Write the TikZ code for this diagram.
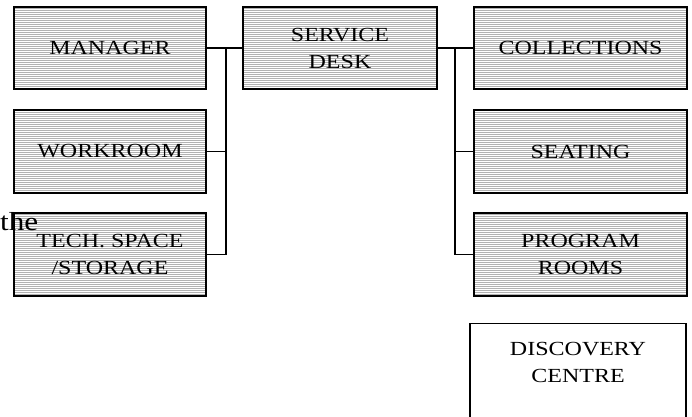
\documentclass[tikz,border=0pt]{standalone}
\usepackage{fontspec}
\usetikzlibrary{patterns.meta,positioning}
\newfontfamily\roomfont[FakeStretch=1.2]{Liberation Serif}
\tikzset{
  roombox/.style={draw, line width=1.2pt, align=center,
    pattern={Lines[angle=0,distance=2pt,line width=0.7pt]}, pattern color=black!30,
    font=\roomfont\fontsize{20}{27}\selectfont},
  plainbox/.style={draw, line width=1.2pt},
  link/.style={line width=1.3pt}
}
\begin{document}
\begin{tikzpicture}[x=1pt,y=1pt]
            \useasboundingbox (0,0) rectangle (692,416);
            \clip (0,0) rectangle (692,416);

            % Left column
            \node (manager) [roombox, minimum width=192pt, minimum height=82pt] at (110,368) {MANAGER};
            \node (workroom) [roombox, minimum width=192pt, minimum height=83pt] at (110,264.5) {WORKROOM};
            \node (tech) [roombox, minimum width=192pt, minimum height=83pt] at (110,161.5) {TECH. SPACE\\/STORAGE};

            % Service desk
            \node (service) [roombox, minimum width=194pt, minimum height=82pt] at (340,368) {SERVICE\\DESK};

            % Right column
            \node (collections) [roombox, minimum width=213pt, minimum height=82pt] at (580.5,368) {COLLECTIONS};
            \node (seating) [roombox, minimum width=213pt, minimum height=83pt] at (580.5,264.5) {SEATING};
            \node (program) [roombox, minimum width=213pt, minimum height=83pt] at (580.5,161.5) {PROGRAM\\ROOMS};

            % Discovery centre, running off the bottom
            \node (discovery) [plainbox, anchor=north, minimum width=216pt, minimum height=120pt] at (578,93) {};
            \node (discoverytext) [below=16pt of discovery.north, align=center,
              font=\roomfont\fontsize{20}{27}\selectfont] {DISCOVERY\\CENTRE};

            % Stray word
            \node (thelabel) [anchor=base west, inner sep=0pt,
              font=\roomfont\fontsize{26}{30}\selectfont] at (0,186) {the};

            % Left bus
            \coordinate (leftbus) at (226,368);
            \draw [link] (manager.east) -- (service.west);
            \draw [link] (leftbus) |- (tech.east);
            \draw [link] (leftbus |- workroom.east) -- (workroom.east);

            % Right bus
            \coordinate (rightbus) at (455,368);
            \draw [link] (service.east) -- (collections.west);
            \draw [link] (rightbus) |- (program.west);
            \draw [link] (rightbus |- seating.west) -- (seating.west);
\end{tikzpicture}
\end{document}
